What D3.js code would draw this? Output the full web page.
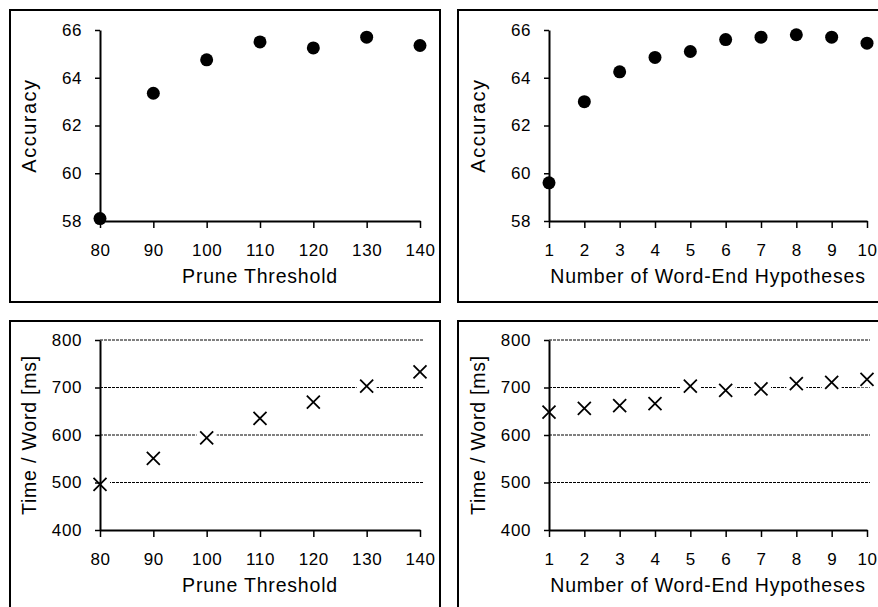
<!DOCTYPE html>
<html>
<head>
<meta charset="utf-8">
<script src="https://cdn.jsdelivr.net/npm/d3@7"></script>
<style>
	body { margin: 0; background: #fff; }
	svg { display: block; }
	text { font-family: "Liberation Sans", Arial, sans-serif; fill: #000; }
</style>
</head>
<body>
<div id="chart-area"></div>
<script>

// Data
let pruneThresholds = [80, 90, 100, 110, 120, 130, 140];
let pruneAccuracy = [58.1, 63.35, 64.75, 65.5, 65.25, 65.7, 65.35];
let pruneTime = [496, 551, 594, 635, 669, 703, 733];

let hypotheses = [1, 2, 3, 4, 5, 6, 7, 8, 9, 10];
let hypAccuracy = [59.6, 63.0, 64.25, 64.85, 65.1, 65.6, 65.7, 65.8, 65.7, 65.45];
let hypTime = [648, 656, 662, 666, 703, 694, 697, 708, 711, 717];

let accuracyTicks = [58, 60, 62, 64, 66];
let timeTicks = [400, 500, 600, 700, 800];

// SVG Size
let width = 878,
	height = 607;

let svg = d3.select("#chart-area").append("svg")
	.attr("width", width)
	.attr("height", height);

// panel frames
let frames = [
	{x: 10, y: 10, w: 430, h: 292},
	{x: 458, y: 10, w: 460, h: 292},
	{x: 10, y: 321, w: 430, h: 320},
	{x: 458, y: 321, w: 460, h: 320}
];
svg.selectAll(".frame").data(frames).enter()
	.append("rect")
	.attr("class", "frame")
	.attr("x", d => d.x)
	.attr("y", d => d.y)
	.attr("width", d => d.w)
	.attr("height", d => d.h)
	.attr("fill", "none")
	.attr("stroke", "black")
	.attr("stroke-width", 2);

let panels = [
	{xs: pruneThresholds, ys: pruneAccuracy, xr: [100, 420], yr: [221, 30], ydom: [58, 66],
		yticks: accuracyTicks, xlabel: "Prune Threshold", ylabel: "Accuracy", ysize: 20, yspacing: 1.5, mark: "dot", grid: false},
	{xs: hypotheses, ys: hypAccuracy, xr: [549, 867], yr: [221, 30], ydom: [58, 66],
		yticks: accuracyTicks, xlabel: "Number of Word-End Hypotheses", ylabel: "Accuracy", ysize: 20, yspacing: 1.5, mark: "dot", grid: false},
	{xs: pruneThresholds, ys: pruneTime, xr: [100, 420], yr: [530, 340], ydom: [400, 800],
		yticks: timeTicks, xlabel: "Prune Threshold", ylabel: "Time / Word [ms]", ysize: 19.5, yspacing: 0.8, mark: "cross", grid: true},
	{xs: hypotheses, ys: hypTime, xr: [549, 867], yr: [530, 340], ydom: [400, 800],
		yticks: timeTicks, xlabel: "Number of Word-End Hypotheses", ylabel: "Time / Word [ms]", ysize: 19.5, yspacing: 0.8, mark: "cross", grid: true}
];

panels.forEach(p => drawPanel(p));

function drawPanel(p) {
	let g = svg.append("g");

	let XScale = d3.scaleLinear()
		.domain(d3.extent(p.xs))
		.range(p.xr);
	let YScale = d3.scaleLinear()
		.domain(p.ydom)
		.range(p.yr);

	let points = p.xs.map((x, i) => ({x: x, y: p.ys[i]}));

	// dotted gridlines
	if (p.grid) {
		g.selectAll(".grid").data(p.yticks.slice(1)).enter()
			.append("line")
			.attr("x1", p.xr[0])
			.attr("x2", p.xr[1] + 3)
			.attr("y1", d => YScale(d))
			.attr("y2", d => YScale(d))
			.attr("stroke", "black")
			.attr("stroke-width", 1)
			.attr("stroke-dasharray", "3,1");

		// white box behind each cross breaks the gridline
		g.selectAll(".halo").data(points).enter()
			.append("rect")
			.attr("x", d => XScale(d.x) - 10)
			.attr("y", d => YScale(d.y) - 8)
			.attr("width", 20)
			.attr("height", 16)
			.attr("fill", "white");
	}

	//The Axis
	let xAxis = d3.axisBottom(XScale)
		.tickValues(p.xs)
		.tickFormat(d3.format("d"))
		.tickSize(7)
		.tickSizeOuter(0)
		.tickPadding(16);
	let yAxis = d3.axisLeft(YScale)
		.tickValues(p.yticks)
		.tickSize(5)
		.tickSizeOuter(0)
		.tickPadding(13);

	let gx = g.append("g")
		.attr("transform", "translate(0," + p.yr[0] + ")")
		.call(xAxis);
	let gy = g.append("g")
		.attr("transform", "translate(" + p.xr[0] + ",0)")
		.call(yAxis);

	[gx, gy].forEach(a => {
		a.select(".domain").attr("stroke", "black").attr("stroke-width", 2);
		a.selectAll(".tick line").attr("stroke", "black").attr("stroke-width", 1.5);
		a.selectAll(".tick text")
			.style("font-size", "17px")
			.style("letter-spacing", "0.6px")
			.attr("fill", "black");
	});

	// axis titles
	g.append("text")
		.attr("x", (p.xr[0] + p.xr[1]) / 2)
		.attr("y", p.yr[0] + 62)
		.attr("text-anchor", "middle")
		.style("font-size", "19.5px")
		.style("letter-spacing", "0.8px")
		.text(p.xlabel);

	g.append("text")
		.attr("transform", "translate(" + (p.xr[0] - 64) + "," + ((p.yr[0] + p.yr[1]) / 2) + ") rotate(-90)")
		.attr("text-anchor", "middle")
		.style("font-size", p.ysize + "px")
		.style("letter-spacing", p.yspacing + "px")
		.text(p.ylabel);

	// marks
	if (p.mark === "dot") {
		g.selectAll(".dot").data(points).enter()
			.append("circle")
			.attr("cx", d => XScale(d.x))
			.attr("cy", d => YScale(d.y))
			.attr("r", 6.5)
			.attr("fill", "black");
	} else {
		g.selectAll(".cross").data(points).enter()
			.append("path")
			.attr("transform", d => "translate(" + XScale(d.x) + "," + YScale(d.y) + ")")
			.attr("d", "M-6.5,-6.5L6.5,6.5M-6.5,6.5L6.5,-6.5")
			.attr("stroke", "black")
			.attr("stroke-width", 1.8)
			.attr("fill", "none");
	}
}

</script>
</body>
</html>
